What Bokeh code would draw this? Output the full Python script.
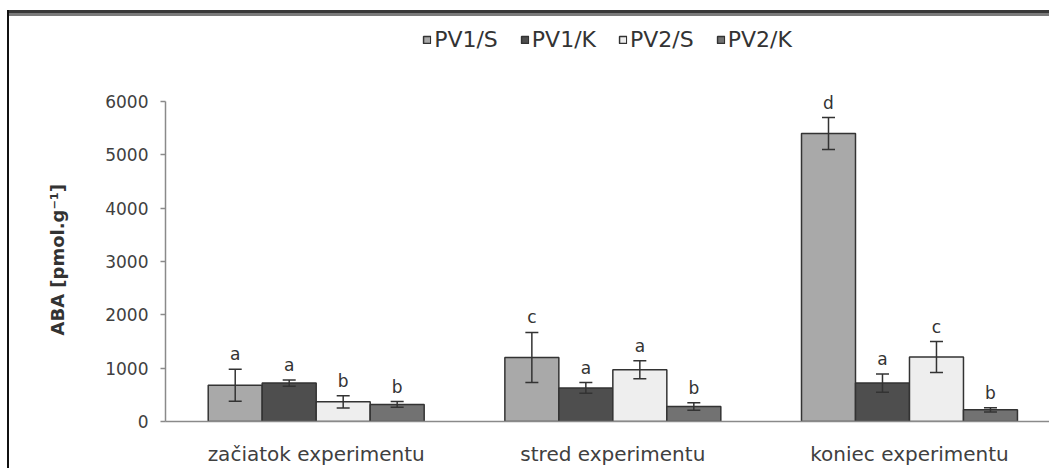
from bokeh.plotting import figure
from bokeh.models import (ColumnDataSource, Range1d, FixedTicker, Whisker, TeeHead,
                          LabelSet, Legend, LegendItem, Title)
from bokeh.core.properties import value
from bokeh.embed import file_html
from bokeh.resources import INLINE

# ---- data ----
categories = ["začiatok experimentu", "stred experimentu", "koniec experimentu"]
series = ["PV1/S", "PV1/K", "PV2/S", "PV2/K"]
pv1_s = [680, 1200, 5400]
pv1_s_err = [300, 470, 300]
pv1_k = [720, 630, 720]
pv1_k_err = [60, 100, 170]
pv2_s = [370, 970, 1210]
pv2_s_err = [115, 170, 290]
pv2_k = [320, 280, 220]
pv2_k_err = [55, 70, 40]
letters_pv1_s = ["a", "c", "d"]
letters_pv1_k = ["a", "a", "a"]
letters_pv2_s = ["b", "a", "c"]
letters_pv2_k = ["b", "b", "b"]
y_ticks = [0, 1000, 2000, 3000, 4000, 5000, 6000]

values = [pv1_s, pv1_k, pv2_s, pv2_k]
errors = [pv1_s_err, pv1_k_err, pv2_s_err, pv2_k_err]
letters = [letters_pv1_s, letters_pv1_k, letters_pv2_s, letters_pv2_k]
colors = ["#a9a9a9", "#4e4e4e", "#eeeeee", "#727272"]
offsets = [-0.273, -0.091, 0.091, 0.273]
bar_w = 0.182

FONT = "DejaVu Sans"

p = figure(width=1040, height=452, output_backend="svg", toolbar_location=None,
           x_range=Range1d(-0.008, 2.972), y_range=Range1d(0, 7500),
           min_border_left=155, min_border_right=0, min_border_top=5,
           min_border_bottom=47)
p.styles = {"margin-left": "9px", "margin-top": "16px", "overflow": "hidden",
            "box-shadow": "0 -3px 0 0 #7a7a7a, 0 -6px 0 0 #383838, "
                          "-2px 0 0 0 #111111, -2px -6px 0 0 #111111"}
p.outline_line_color = None
p.xgrid.visible = False
p.ygrid.visible = False
p.background_fill_color = "white"
p.border_fill_color = "white"

legend_items = []
for i, name in enumerate(series):
    xs = [j + 0.5 + offsets[i] for j in range(len(categories))]
    up = [v + e for v, e in zip(values[i], errors[i])]
    lo = [v - e for v, e in zip(values[i], errors[i])]
    src = ColumnDataSource(dict(x=xs, top=values[i], upper=up, lower=lo, lab=letters[i]))
    r = p.vbar(x="x", top="top", width=bar_w, bottom=0, source=src,
               fill_color=colors[i], line_color="#333333", line_width=1.5)
    legend_items.append(LegendItem(label=name, renderers=[r]))
    w = Whisker(base="x", upper="upper", lower="lower", source=src, dimension="height",
                level="overlay", line_color="#333333", line_width=1.5,
                upper_head=TeeHead(size=13, line_color="#333333", line_width=1.5),
                lower_head=TeeHead(size=13, line_color="#333333", line_width=1.5))
    p.add_layout(w)
    ls = LabelSet(x="x", y="upper", text="lab", source=src, y_offset=5,
                  text_align="center", text_baseline="bottom",
                  text_font=value(FONT), text_font_size="17px", text_color="#333333")
    p.add_layout(ls)

legend = Legend(items=legend_items, orientation="horizontal", location="top_center",
                border_line_color=None, background_fill_alpha=0,
                glyph_width=9, glyph_height=9, label_standoff=3, spacing=22,
                padding=0, margin=6,
                label_text_font=FONT, label_text_font_size="22px",
                label_text_color="#333333")
p.add_layout(legend)

# y axis
p.yaxis.ticker = FixedTicker(ticks=y_ticks)
p.yaxis.bounds = (0, 6000)
p.yaxis.axis_line_color = "#8a8a8a"
p.yaxis.axis_line_width = 1.5
p.yaxis.major_tick_line_color = "#8a8a8a"
p.yaxis.major_tick_line_width = 1.5
p.yaxis.major_tick_out = 5
p.yaxis.major_tick_in = 0
p.yaxis.minor_tick_line_color = None
p.yaxis.major_label_standoff = 12
p.yaxis.major_label_text_font = FONT
p.yaxis.major_label_text_font_size = "17px"
p.yaxis.major_label_text_color = "#404040"

# x axis
p.xaxis.ticker = FixedTicker(ticks=[j + 0.5 for j in range(len(categories))])
p.xaxis.major_label_overrides = {j + 0.5: c for j, c in enumerate(categories)}
p.xaxis.axis_line_color = "#8a8a8a"
p.xaxis.axis_line_width = 1.5
p.xaxis.major_tick_line_color = None
p.xaxis.minor_tick_line_color = None
p.xaxis.major_tick_out = 0
p.xaxis.major_label_standoff = 20
p.xaxis.major_label_text_font = FONT
p.xaxis.major_label_text_font_size = "20px"
p.xaxis.major_label_text_color = "#404040"

# y-axis title
p.add_layout(Title(text="ABA [pmol.g⁻¹]", align="left", offset=86, standoff=70,
                   text_font=FONT, text_font_size="18px", text_font_style="bold",
                   text_color="#333333"), "left")

open("out.html", "w").write(file_html(p, INLINE))
